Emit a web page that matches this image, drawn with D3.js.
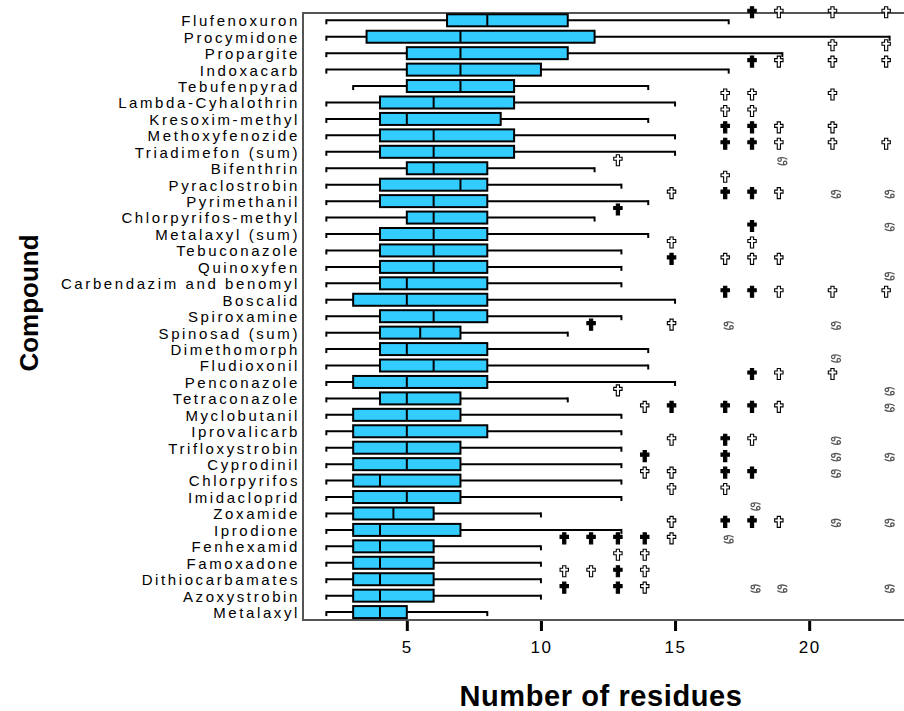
<!DOCTYPE html>
<html><head><meta charset="utf-8">
<script src="https://cdn.jsdelivr.net/npm/d3@7"></script>
<style>body{margin:0;background:#fff}svg{display:block}</style>
</head><body>
<svg id="chart" width="904" height="711"></svg>
<script>
const compounds = ["Flufenoxuron","Procymidone","Propargite","Indoxacarb","Tebufenpyrad","Lambda-Cyhalothrin","Kresoxim-methyl","Methoxyfenozide","Triadimefon (sum)","Bifenthrin","Pyraclostrobin","Pyrimethanil","Chlorpyrifos-methyl","Metalaxyl (sum)","Tebuconazole","Quinoxyfen","Carbendazim and benomyl","Boscalid","Spiroxamine","Spinosad (sum)","Dimethomorph","Fludioxonil","Penconazole","Tetraconazole","Myclobutanil","Iprovalicarb","Trifloxystrobin","Cyprodinil","Chlorpyrifos","Imidacloprid","Zoxamide","Iprodione","Fenhexamid","Famoxadone","Dithiocarbamates","Azoxystrobin","Metalaxyl"];
const whiskerLow  = [2,2,2,2,3,2,2,2,2,2,2,2,2,2,2,2,2,2,2,2,2,2,2,2,2,2,2,2,2,2,2,2,2,2,2,2,2];
const q1          = [6.5,3.5,5,5,5,4,4,4,4,5,4,4,5,4,4,4,4,3,4,4,4,4,3,4,3,3,3,3,3,3,3,3,3,3,3,3,3];
const median      = [8,7,7,7,7,6,5,6,6,6,7,6,6,6,6,6,5,5,6,5.5,5,6,5,5,5,5,5,5,4,5,4.5,4,4,4,4,4,4];
const q3          = [11,12,11,10,9,9,8.5,9,9,8,8,8,8,8,8,8,8,8,8,7,8,8,8,7,7,8,7,7,7,7,6,7,6,6,6,6,5];
const whiskerHigh = [17,23,19,17,14,15,14,15,15,12,13,14,12,14,13,13,13,15,13,11,14,14,15,11,13,13,13,13,13,13,10,13,10,10,10,10,8];
// outliers drawn as filled (bold) crosses
const boldOutliers = [[18],[],[],[18],[],[],[],[17,18],[17,18],[],[],[17,18],[13],[18],[],[15],[],[17,18],[],[12],[],[],[18],[],[15,17,18],[],[17],[14,17],[17,18],[],[],[17,18],[11,12,13,14],[],[13],[11,13],[]];
// outliers drawn as open crosses
const openOutliers = [[19,21,23],[],[21,23],[19,21,23],[],[17,18,21],[17,18],[19,21],[19,21,23],[13],[17],[15,19],[],[],[15,18],[17,18,19],[],[19,21,23],[],[15],[],[],[19,21],[13],[14,19],[],[15,18],[],[14,15],[15,17],[],[15,19],[15],[13,14],[11,12,14],[14],[]];
// extreme values
const extremes = [[],[],[],[],[],[],[],[],[],[19],[],[21,23],[],[23],[],[],[23],[],[],[17,21],[],[21],[],[23],[23],[],[21],[21,23],[21],[],[18],[21,23],[17],[],[],[18,19,23],[]];
const xTicks = [5,10,15,20];
const xTitle = "Number of residues";
const yTitle = "Compound";

const svg = d3.select("#chart");
const pLeft = 303, pTop = 13, pBottom = 620, W = 904;
const x = d3.scaleLinear().domain([1.13, 25.25]).range([pLeft, 950]);
const y = d3.scalePoint().domain(compounds).range([20.3, 612.1]);
const boxH = 12;
const symOffY = -8, crossOffX = -3.5;

const rows = compounds.map((c,i)=>({name:c, lo:whiskerLow[i], q1:q1[i], med:median[i], q3:q3[i], hi:whiskerHigh[i]}));

// frame
const g = svg.append("g");
g.append("line").attr("x1",pLeft).attr("x2",W).attr("y1",pTop).attr("y2",pTop).attr("stroke","#555").attr("stroke-width",2);
g.append("line").attr("x1",pLeft).attr("x2",pLeft).attr("y1",pTop-1).attr("y2",pBottom+1).attr("stroke","#555").attr("stroke-width",2);

// x axis
const xAxis = svg.append("g").attr("transform",`translate(0,${pBottom})`)
  .call(d3.axisBottom(x).tickValues(xTicks).tickSize(11).tickPadding(10).tickFormat(d3.format("d")));
xAxis.select(".domain").remove();
xAxis.append("line").attr("x1",pLeft-1).attr("x2",W).attr("stroke","#555").attr("stroke-width",2);
xAxis.selectAll(".tick line").attr("stroke","#000").attr("stroke-width",3);
xAxis.selectAll(".tick text").attr("fill","#000").style("font-family","Liberation Sans, Arial, sans-serif").style("font-size","17px").style("letter-spacing","1.5px");

// y axis labels
const yAxis = svg.append("g").attr("transform",`translate(${pLeft},0)`)
  .call(d3.axisLeft(y).tickSize(0).tickPadding(3));
yAxis.select(".domain").remove();
yAxis.selectAll(".tick text").attr("fill","#000").attr("dy","0.36em")
  .style("font-family","Liberation Sans, Arial, sans-serif").style("font-size","15px").style("letter-spacing","2.6px");

// whiskers
const bx = svg.append("g");
bx.selectAll("line.wh").data(rows).join("line").attr("class","wh")
  .attr("x1",d=>x(d.lo)).attr("x2",d=>x(d.hi)).attr("y1",d=>y(d.name)).attr("y2",d=>y(d.name))
  .attr("stroke","#000").attr("stroke-width",2);
bx.selectAll("line.capL").data(rows).join("line").attr("class","capL")
  .attr("x1",d=>x(d.lo)).attr("x2",d=>x(d.lo)).attr("y1",d=>y(d.name)-1).attr("y2",d=>y(d.name)+4)
  .attr("stroke","#000").attr("stroke-width",2);
bx.selectAll("line.capR").data(rows).join("line").attr("class","capR")
  .attr("x1",d=>x(d.hi)).attr("x2",d=>x(d.hi)).attr("y1",d=>y(d.name)-1).attr("y2",d=>y(d.name)+4)
  .attr("stroke","#000").attr("stroke-width",2);
bx.selectAll("rect").data(rows).join("rect")
  .attr("x",d=>x(d.q1)).attr("width",d=>x(d.q3)-x(d.q1))
  .attr("y",d=>y(d.name)-boxH/2).attr("height",boxH)
  .attr("fill","#33ccff").attr("stroke","#000").attr("stroke-width",2);
bx.selectAll("line.med").data(rows).join("line").attr("class","med")
  .attr("x1",d=>x(d.med)).attr("x2",d=>x(d.med)).attr("y1",d=>y(d.name)-boxH/2).attr("y2",d=>y(d.name)+boxH/2)
  .attr("stroke","#000").attr("stroke-width",2);

// outliers
const cross = "M-1.6,-5.5H1.6V-3H4.2V0H1.6V5.5H-1.6V0H-4.2V-3H-1.6Z";
const extremeSym = "M-2.4,-2.9A1.5,1.5 0 1 0 -2.39,-2.9M-2.4,-2.9Q1.2,-3.8 4.3,-1.8M2.4,2.9A1.5,1.5 0 1 0 2.39,2.9M2.4,2.9Q-1.2,3.8 -4.3,1.8";
const pts = [];
compounds.forEach((c,i)=>{
  boldOutliers[i].forEach(v=>pts.push({name:c,v,k:"b"}));
  openOutliers[i].forEach(v=>pts.push({name:c,v,k:"o"}));
  extremes[i].forEach(v=>pts.push({name:c,v,k:"e"}));
});
const og = svg.append("g");
og.selectAll("path.out").data(pts.filter(p=>p.k!=="e")).join("path").attr("class","out")
  .attr("d",cross)
  .attr("transform",d=>`translate(${x(d.v)+crossOffX},${y(d.name)+symOffY})`)
  .attr("fill",d=>d.k==="b"?"#000":"#fff").attr("stroke","#000").attr("stroke-width",1.1);
og.selectAll("path.ext").data(pts.filter(p=>p.k==="e")).join("path").attr("class","ext")
  .attr("d",extremeSym)
  .attr("transform",d=>`translate(${x(d.v)},${y(d.name)+symOffY+1}) scale(1.15)`)
  .attr("fill","none").attr("stroke","#555").attr("stroke-width",1.1);

// titles
svg.append("text").attr("x",601).attr("y",706).attr("text-anchor","middle")
  .style("font-family","Liberation Sans, Arial, sans-serif").style("font-weight","bold").style("font-size","29px").style("letter-spacing","0.6px")
  .text(xTitle);
svg.append("text").attr("transform","translate(38,303) rotate(-90)").attr("text-anchor","middle")
  .style("font-family","Liberation Sans, Arial, sans-serif").style("font-weight","bold").style("font-size","26px")
  .text(yTitle);
</script>
</body></html>
